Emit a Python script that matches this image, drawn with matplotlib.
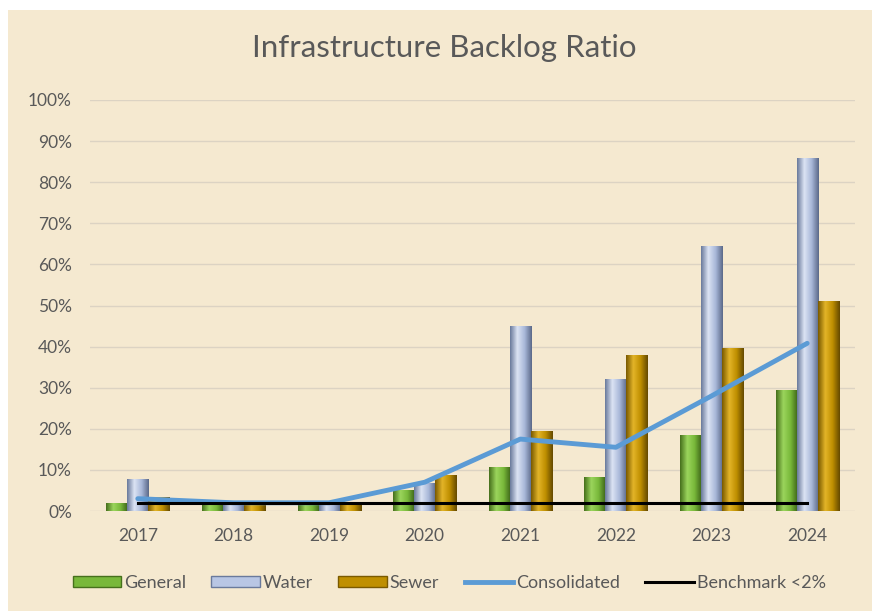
import matplotlib.pyplot as plt
from matplotlib.lines import Line2D
from matplotlib.patches import Patch, Rectangle
from matplotlib.colors import LinearSegmentedColormap
import numpy as np

years = ['2017', '2018', '2019', '2020', '2021', '2022', '2023', '2024']
general = [2.0, 1.8, 1.8, 5.0, 10.7, 8.3, 18.5, 29.4]
water = [7.8, 1.8, 1.8, 6.8, 45.0, 32.0, 64.5, 86.0]
sewer = [3.4, 1.8, 1.8, 8.8, 19.5, 38.0, 39.6, 51.0]
consolidated = [3.0, 2.0, 2.0, 7.0, 17.5, 15.5, 28.0, 40.8]
benchmark = [2.0] * 8

bg = '#F5E9D0'
txt = '#595959'
plt.rcParams['font.family'] = ['Lato', 'DejaVu Sans']

fig = plt.figure(figsize=(8.72, 6.13), dpi=100, facecolor='white')
# chart area sits inside a thin white margin at top and left
fig.patches.append(Rectangle((8 / 872, 0.003), 1, 1 - 10 / 613 - 0.003,
                             transform=fig.transFigure, facecolor=bg, edgecolor='none', zorder=-1))

ax = fig.add_axes([90 / 872, 1 - 511 / 613, (855 - 90) / 872, (511 - 100) / 613])
ax.set_facecolor(bg)

x = np.arange(len(years))
w = 0.22

# side-lit gradients to mimic the bevelled bars
shades = {
    'General': ['#46701c', '#9bd55c', '#78b83a', '#3c6318'],
    'Water': ['#6a7a9c', '#dbe3f3', '#a9b8d9', '#5c6a8a'],
    'Sewer': ['#7a5a00', '#e3b428', '#bf8f00', '#654a00'],
}
series = [('General', general, -w), ('Water', water, 0), ('Sewer', sewer, w)]
for name, vals, off in series:
    cmap = LinearSegmentedColormap.from_list(name, shades[name])
    bars = ax.bar(x + off, vals, w, color=shades[name][2], zorder=2)
    grad = np.linspace(0, 1, 64).reshape(1, -1)
    for b in bars:
        bx, by = b.get_x(), b.get_y()
        im = ax.imshow(grad, cmap=cmap, aspect='auto', zorder=2.1,
                       extent=[bx, bx + b.get_width(), by, by + b.get_height()])
        im.set_clip_path(b)

ax.plot(x, consolidated, color='#5b9bd5', lw=3.5, zorder=4, solid_capstyle='round')
ax.plot(x, benchmark, color='black', lw=2.2, zorder=5)

ax.set_xlim(-0.5, len(years) - 0.5)
ax.set_ylim(0, 100)
ax.set_yticks(range(0, 101, 10))
ax.set_yticklabels([f'{v}%' for v in range(0, 101, 10)])
ax.set_xticks(x)
ax.set_xticklabels(years)
ax.tick_params(length=0, colors=txt, labelsize=12.5)
ax.tick_params(axis='y', pad=13)
ax.tick_params(axis='x', pad=12)
ax.grid(axis='y', color='#dcd3c3', lw=1, zorder=0)
for s in ax.spines.values():
    s.set_visible(False)

fig.text(0.51, 1 - 48 / 613, 'Infrastructure Backlog Ratio', ha='center', va='center',
         fontsize=22.5, color=txt)

handles = [
    Patch(facecolor='#78b83a', edgecolor='#46701c'),
    Patch(facecolor='#b8c6e4', edgecolor='#6a7a9c'),
    Patch(facecolor='#bf8f00', edgecolor='#7a5a00'),
    Line2D([], [], color='#5b9bd5', lw=3.5),
    Line2D([], [], color='black', lw=2.2),
]
labels = ['General', 'Water', 'Sewer', 'Consolidated', 'Benchmark <2%']
fig.legend(handles, labels, loc='center', bbox_to_anchor=(0.515, 1 - 583 / 613), ncol=5,
           frameon=False, fontsize=13, labelcolor=txt, handlelength=2.7, handleheight=0.55,
           handletextpad=0.15, columnspacing=1.4)

fig.savefig('out.png', dpi=100, facecolor='white')
